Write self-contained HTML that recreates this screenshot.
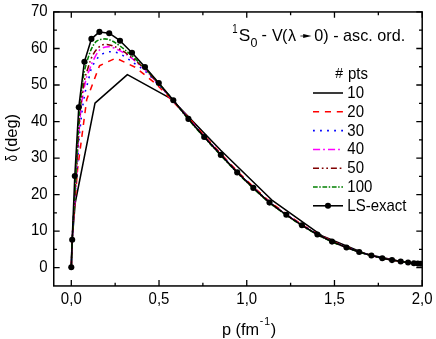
<!DOCTYPE html>
<html><head><meta charset="utf-8"><title>chart</title>
<style>
html,body{margin:0;padding:0;background:#fff;}
body{width:436px;height:339px;overflow:hidden;}
svg{display:block;will-change:transform;}
text{font-family:"Liberation Sans",sans-serif;fill:#000;}
</style></head><body>
<svg width="436" height="339" viewBox="0 0 436 339">
<rect width="436" height="339" fill="#fff"/>
<g clip-path="url(#cp)">
<path d="M71.3,267.2 L72.2,239.7 L75.2,203.0 L95.0,103.1 L127.4,74.6 L170.9,98.6 L220.7,150.3 L272.6,200.7 L322.9,236.3 L366.0,253.9 L398.6,261.1 L417.7,263.6" fill="none" stroke="#000" stroke-width="1.55" stroke-linejoin="round"/>
<path d="M71.3,267.2 L72.5,233.0 L77.6,169.0 L86.7,99.6 L99.5,65.7 L115.8,58.1 L135.2,67.2 L157.1,84.8 L181.2,110.2 L189.7,118.9 L205.4,137.0 L222.1,154.9 L238.4,172.4 L254.6,187.9 L270.8,202.6 L287.6,214.8 L303.1,225.3 L318.6,234.5 L333.2,241.6 L347.5,247.5 L360.0,252.0 L372.0,255.5 L382.7,258.2 L392.2,260.1 L400.8,261.5 L408.1,262.5 L413.9,263.3 L417.8,263.6 L420.5,263.8" fill="none" stroke="#ff0000" stroke-width="1.55" stroke-linejoin="round" stroke-dasharray="6.1 5.8"/>
<path d="M71.30,267.20 C71.45,262.67 71.60,251.53 72.20,240.00 C72.80,228.47 74.10,209.67 74.90,198.00 C75.70,186.33 76.32,179.67 77.00,170.00 C77.68,160.33 78.30,148.55 79.00,140.00 C79.70,131.45 80.60,124.20 81.20,118.70 C81.80,113.20 82.13,110.37 82.60,107.00 C83.07,103.63 83.47,101.43 84.00,98.50 C84.53,95.57 85.13,92.15 85.80,89.40 C86.47,86.65 87.10,85.40 88.00,82.00 C88.90,78.60 89.98,72.43 91.20,69.00 C92.42,65.57 93.82,63.67 95.30,61.40 C96.78,59.13 98.15,56.93 100.10,55.40 C102.05,53.87 104.72,52.78 107.00,52.20 C109.28,51.62 111.52,51.55 113.80,51.90 C116.08,52.25 118.28,53.10 120.70,54.30 C123.12,55.50 125.75,57.38 128.30,59.10 C130.85,60.82 133.13,62.53 136.00,64.60 C138.87,66.67 141.70,68.10 145.50,71.50 C149.30,74.90 154.17,80.15 158.80,85.00 C163.43,89.85 168.28,94.95 173.30,100.60 C178.33,106.25 183.71,112.83 188.95,118.90 C194.19,124.97 199.35,131.00 204.75,137.00 C210.15,143.00 215.85,149.00 221.35,154.90 C226.85,160.80 232.33,166.90 237.75,172.40 C243.17,177.90 248.47,182.87 253.85,187.90 C259.23,192.93 264.55,198.12 270.05,202.60 C275.55,207.08 281.45,211.02 286.85,214.80 C292.25,218.58 297.27,222.02 302.45,225.30 C307.63,228.58 312.94,231.78 317.95,234.50 C322.96,237.22 327.71,239.43 332.54,241.60 C337.37,243.77 342.43,245.77 346.93,247.50 C351.43,249.23 355.42,250.67 359.54,252.00 C363.66,253.33 367.82,254.47 371.65,255.50 C375.47,256.53 379.06,257.44 382.47,258.20 C385.87,258.96 389.05,259.50 392.10,260.05 C395.14,260.60 398.06,261.09 400.73,261.50 C403.40,261.91 405.91,262.20 408.10,262.50 C410.29,262.80 412.28,263.12 413.90,263.30 C415.52,263.48 416.70,263.52 417.80,263.60 C418.90,263.68 420.05,263.77 420.50,263.80" fill="none" stroke="#0000ff" stroke-width="1.55" stroke-linejoin="round" stroke-dasharray="1.8 5.25"/>
<path d="M71.30,267.20 C71.45,262.67 71.60,251.70 72.20,240.00 C72.80,228.30 74.13,208.67 74.90,197.00 C75.67,185.33 76.20,179.50 76.80,170.00 C77.40,160.50 77.77,150.50 78.50,140.00 C79.23,129.50 79.98,116.97 81.20,107.00 C82.42,97.03 84.37,86.53 85.80,80.20 C87.23,73.87 88.57,72.28 89.80,69.00 C91.03,65.72 91.48,63.75 93.20,60.50 C94.92,57.25 97.47,51.80 100.10,49.50 C102.73,47.20 106.13,46.70 109.00,46.70 C111.87,46.70 114.80,48.45 117.30,49.50 C119.80,50.55 121.72,51.63 124.00,53.00 C126.28,54.37 127.45,54.87 131.00,57.70 C134.55,60.53 140.67,65.53 145.30,70.00 C149.93,74.47 154.13,79.42 158.80,84.50 C163.47,89.58 168.32,94.77 173.30,100.50 C178.28,106.23 183.50,112.82 188.70,118.90 C193.90,124.98 199.10,131.00 204.50,137.00 C209.90,143.00 215.60,149.00 221.10,154.90 C226.60,160.80 232.08,166.90 237.50,172.40 C242.92,177.90 248.22,182.87 253.60,187.90 C258.98,192.93 264.30,198.12 269.80,202.60 C275.30,207.08 281.20,211.02 286.60,214.80 C292.00,218.58 297.02,222.02 302.20,225.30 C307.38,228.58 312.68,231.78 317.70,234.50 C322.72,237.22 327.45,239.43 332.29,241.60 C337.13,243.77 342.22,245.77 346.73,247.50 C351.25,249.23 355.25,250.67 359.38,252.00 C363.52,253.33 367.70,254.47 371.53,255.50 C375.37,256.53 378.97,257.44 382.39,258.20 C385.81,258.96 389.00,259.50 392.05,260.05 C395.11,260.60 398.04,261.09 400.72,261.50 C403.39,261.91 405.90,262.20 408.10,262.50 C410.30,262.80 412.28,263.12 413.90,263.30 C415.52,263.48 416.70,263.52 417.80,263.60 C418.90,263.68 420.05,263.77 420.50,263.80" fill="none" stroke="#ff00ff" stroke-width="1.55" stroke-linejoin="round" stroke-dasharray="7.1 3.0 1.8 3.1"/>
<path d="M71.30,267.20 C71.45,262.67 71.60,251.87 72.20,240.00 C72.80,228.13 74.17,207.67 74.90,196.00 C75.63,184.33 76.05,179.33 76.60,170.00 C77.15,160.67 77.55,150.50 78.20,140.00 C78.85,129.50 79.45,117.00 80.50,107.00 C81.55,97.00 83.30,86.33 84.50,80.00 C85.70,73.67 86.72,72.25 87.70,69.00 C88.68,65.75 89.48,62.95 90.40,60.50 C91.32,58.05 92.17,56.13 93.20,54.30 C94.23,52.47 95.22,51.00 96.60,49.50 C97.98,48.00 99.77,46.15 101.50,45.30 C103.23,44.45 105.05,44.28 107.00,44.40 C108.95,44.52 110.80,45.05 113.20,46.00 C115.60,46.95 118.43,48.27 121.40,50.10 C124.37,51.93 127.03,53.80 131.00,57.00 C134.97,60.20 140.57,64.77 145.20,69.30 C149.83,73.83 154.12,79.02 158.80,84.20 C163.48,89.38 168.34,94.62 173.30,100.40 C178.26,106.18 183.38,112.80 188.55,118.90 C193.73,125.00 198.95,131.00 204.35,137.00 C209.75,143.00 215.45,149.00 220.95,154.90 C226.45,160.80 231.93,166.90 237.35,172.40 C242.77,177.90 248.07,182.87 253.45,187.90 C258.83,192.93 264.15,198.12 269.65,202.60 C275.15,207.08 281.05,211.02 286.45,214.80 C291.85,218.58 296.87,222.02 302.05,225.30 C307.23,228.58 312.53,231.78 317.55,234.50 C322.57,237.22 327.30,239.43 332.15,241.60 C336.99,243.77 342.09,245.77 346.62,247.50 C351.14,249.23 355.15,250.67 359.29,252.00 C363.43,253.33 367.62,254.47 371.47,255.50 C375.31,256.53 378.92,257.44 382.35,258.20 C385.77,258.96 388.97,259.50 392.03,260.05 C395.09,260.60 398.03,261.09 400.71,261.50 C403.39,261.91 405.90,262.20 408.10,262.50 C410.30,262.80 412.28,263.12 413.90,263.30 C415.52,263.48 416.70,263.52 417.80,263.60 C418.90,263.68 420.05,263.77 420.50,263.80" fill="none" stroke="#800000" stroke-width="1.55" stroke-linejoin="round" stroke-dasharray="6 2.8 1.7 2.8 1.7 2.9"/>
<path d="M71.30,267.20 C71.45,262.67 71.62,252.03 72.20,240.00 C72.78,227.97 74.12,206.67 74.80,195.00 C75.48,183.33 75.80,179.17 76.30,170.00 C76.80,160.83 77.22,150.50 77.80,140.00 C78.38,129.50 78.93,117.00 79.80,107.00 C80.67,97.00 82.15,86.33 83.00,80.00 C83.85,73.67 84.00,72.83 84.90,69.00 C85.80,65.17 87.25,60.48 88.40,57.00 C89.55,53.52 90.43,50.73 91.80,48.10 C93.17,45.47 94.53,42.73 96.60,41.20 C98.67,39.67 101.67,38.97 104.20,38.90 C106.73,38.83 109.17,39.62 111.80,40.80 C114.43,41.98 116.80,43.63 120.00,46.00 C123.20,48.37 126.82,51.28 131.00,55.00 C135.18,58.72 140.47,63.52 145.10,68.30 C149.73,73.08 154.10,78.37 158.80,83.70 C163.50,89.03 168.43,94.43 173.30,100.30 C178.17,106.17 182.92,112.78 188.00,118.90 C193.08,125.02 198.40,131.00 203.80,137.00 C209.20,143.00 214.90,149.00 220.40,154.90 C225.90,160.80 231.38,166.90 236.80,172.40 C242.22,177.90 247.52,182.87 252.90,187.90 C258.28,192.93 263.60,198.12 269.10,202.60 C274.60,207.08 280.50,211.02 285.90,214.80 C291.30,218.58 296.32,222.02 301.50,225.30 C306.68,228.58 311.98,231.78 317.00,234.50 C322.02,237.22 326.75,239.43 331.61,241.60 C336.48,243.77 341.63,245.77 346.19,247.50 C350.75,249.23 354.78,250.67 358.96,252.00 C363.13,253.33 367.35,254.47 371.22,255.50 C375.09,256.53 378.73,257.44 382.18,258.20 C385.63,258.96 388.85,259.50 391.93,260.05 C395.01,260.60 397.98,261.09 400.68,261.50 C403.37,261.91 405.90,262.20 408.10,262.50 C410.30,262.80 412.28,263.12 413.90,263.30 C415.52,263.48 416.70,263.52 417.80,263.60 C418.90,263.68 420.05,263.77 420.50,263.80" fill="none" stroke="#008000" stroke-width="1.55" stroke-linejoin="round" stroke-dasharray="4.7 1.55 1.5 1.7"/>
<path d="M71.3,267.2 L72.2,239.7 L74.8,176.1 L78.8,107.2 L84.4,61.7 L91.4,38.9 L99.4,31.9 L109.2,33.2 L120.0,40.7 L132.0,52.7 L145.0,67.0 L158.8,83.0 L173.3,100.3 L188.4,118.9 L204.2,137.0 L220.8,154.9 L237.2,172.4 L253.3,187.9 L269.5,202.6 L286.3,214.8 L301.9,225.3 L317.4,234.5 L332.0,241.6 L346.5,247.5 L359.2,252.0 L371.4,255.5 L382.3,258.2 L392.0,260.1 L400.7,261.5 L408.1,262.5 L413.9,263.3 L417.8,263.6 L420.5,263.8" fill="none" stroke="#000" stroke-width="1.55" stroke-linejoin="round"/>
<circle cx="71.3" cy="267.2" r="3.05" fill="#000"/>
<circle cx="72.2" cy="239.7" r="3.05" fill="#000"/>
<circle cx="74.8" cy="176.1" r="3.05" fill="#000"/>
<circle cx="78.8" cy="107.2" r="3.05" fill="#000"/>
<circle cx="84.4" cy="61.7" r="3.05" fill="#000"/>
<circle cx="91.4" cy="38.9" r="3.05" fill="#000"/>
<circle cx="99.4" cy="31.9" r="3.05" fill="#000"/>
<circle cx="109.2" cy="33.2" r="3.05" fill="#000"/>
<circle cx="120.0" cy="40.7" r="3.05" fill="#000"/>
<circle cx="132.0" cy="52.7" r="3.05" fill="#000"/>
<circle cx="145.0" cy="67.0" r="3.05" fill="#000"/>
<circle cx="158.8" cy="83.0" r="3.05" fill="#000"/>
<circle cx="173.3" cy="100.3" r="3.05" fill="#000"/>
<circle cx="188.4" cy="118.9" r="3.05" fill="#000"/>
<circle cx="204.2" cy="137.0" r="3.05" fill="#000"/>
<circle cx="220.8" cy="154.9" r="3.05" fill="#000"/>
<circle cx="237.2" cy="172.4" r="3.05" fill="#000"/>
<circle cx="253.3" cy="187.9" r="3.05" fill="#000"/>
<circle cx="269.5" cy="202.6" r="3.05" fill="#000"/>
<circle cx="286.3" cy="214.8" r="3.05" fill="#000"/>
<circle cx="301.9" cy="225.3" r="3.05" fill="#000"/>
<circle cx="317.4" cy="234.5" r="3.05" fill="#000"/>
<circle cx="332.0" cy="241.6" r="3.05" fill="#000"/>
<circle cx="346.5" cy="247.5" r="3.05" fill="#000"/>
<circle cx="359.2" cy="252.0" r="3.05" fill="#000"/>
<circle cx="371.4" cy="255.5" r="3.05" fill="#000"/>
<circle cx="382.3" cy="258.2" r="3.05" fill="#000"/>
<circle cx="392.0" cy="260.1" r="3.05" fill="#000"/>
<circle cx="400.7" cy="261.5" r="3.05" fill="#000"/>
<circle cx="408.1" cy="262.5" r="3.05" fill="#000"/>
<circle cx="413.9" cy="263.3" r="3.05" fill="#000"/>
<circle cx="417.8" cy="263.6" r="3.05" fill="#000"/>
<circle cx="420.5" cy="263.8" r="3.05" fill="#000"/>
</g>
<rect x="53.75" y="11.95" width="368.45" height="274.00" fill="none" stroke="#000" stroke-width="1.5"/>
<path d="M71.30,285.95 v-5.90 M71.30,11.95 v5.90 M115.16,285.95 v-3.20 M115.16,11.95 v3.20 M159.02,285.95 v-5.90 M159.02,11.95 v5.90 M202.88,285.95 v-3.20 M202.88,11.95 v3.20 M246.75,285.95 v-5.90 M246.75,11.95 v5.90 M290.61,285.95 v-3.20 M290.61,11.95 v3.20 M334.47,285.95 v-5.90 M334.47,11.95 v5.90 M378.34,285.95 v-3.20 M378.34,11.95 v3.20 M422.20,285.95 v-5.90 M422.20,11.95 v5.90 M53.75,267.68 h5.90 M422.20,267.68 h-5.90 M53.75,249.42 h3.20 M422.20,249.42 h-3.20 M53.75,231.15 h5.90 M422.20,231.15 h-5.90 M53.75,212.88 h3.20 M422.20,212.88 h-3.20 M53.75,194.62 h5.90 M422.20,194.62 h-5.90 M53.75,176.35 h3.20 M422.20,176.35 h-3.20 M53.75,158.08 h5.90 M422.20,158.08 h-5.90 M53.75,139.82 h3.20 M422.20,139.82 h-3.20 M53.75,121.55 h5.90 M422.20,121.55 h-5.90 M53.75,103.28 h3.20 M422.20,103.28 h-3.20 M53.75,85.02 h5.90 M422.20,85.02 h-5.90 M53.75,66.75 h3.20 M422.20,66.75 h-3.20 M53.75,48.48 h5.90 M422.20,48.48 h-5.90 M53.75,30.22 h3.20 M422.20,30.22 h-3.20 M53.75,11.95 h5.90 M422.20,11.95 h-5.90" stroke="#000" stroke-width="1.3" fill="none"/>
<text transform="translate(47.70,271.98) scale(0.9375,1)" font-size="16" text-anchor="end">0</text>
<text transform="translate(47.70,235.45) scale(0.9375,1)" font-size="16" text-anchor="end">10</text>
<text transform="translate(47.70,198.92) scale(0.9375,1)" font-size="16" text-anchor="end">20</text>
<text transform="translate(47.70,162.38) scale(0.9375,1)" font-size="16" text-anchor="end">30</text>
<text transform="translate(47.70,125.85) scale(0.9375,1)" font-size="16" text-anchor="end">40</text>
<text transform="translate(47.70,89.32) scale(0.9375,1)" font-size="16" text-anchor="end">50</text>
<text transform="translate(47.70,52.78) scale(0.9375,1)" font-size="16" text-anchor="end">60</text>
<text transform="translate(47.70,16.25) scale(0.9375,1)" font-size="16" text-anchor="end">70</text>
<text transform="translate(71.30,304.00) scale(0.9375,1)" font-size="16" text-anchor="middle">0,0</text>
<text transform="translate(159.02,304.00) scale(0.9375,1)" font-size="16" text-anchor="middle">0,5</text>
<text transform="translate(246.75,304.00) scale(0.9375,1)" font-size="16" text-anchor="middle">1,0</text>
<text transform="translate(334.47,304.00) scale(0.9375,1)" font-size="16" text-anchor="middle">1,5</text>
<text transform="translate(422.20,304.00) scale(0.9375,1)" font-size="16" text-anchor="middle">2,0</text>
<text transform="translate(221.90,334.60) scale(1.0000,1)" font-size="16.3" text-anchor="start">p (fm</text>
<text transform="translate(259.80,324.00) scale(1.0000,1)" font-size="10.5" text-anchor="start">-</text>
<text transform="translate(264.30,325.40) scale(1.0000,1)" font-size="10.5" text-anchor="start">1</text>
<text transform="translate(270.80,334.60) scale(1.0000,1)" font-size="16.3" text-anchor="start">)</text>
<text transform="translate(16.6,161.4) rotate(-90) scale(0.72,1)" font-size="16">δ</text>
<text transform="translate(16.6,152.3) rotate(-90)" font-size="16.4">(deg)</text>
<text transform="translate(232.30,32.70) scale(0.8000,1)" font-size="12" text-anchor="start">1</text>
<text transform="translate(238.70,40.60) scale(1.0700,1)" font-size="16.2" text-anchor="start">S</text>
<text transform="translate(250.50,47.20) scale(0.9500,1)" font-size="13.2" text-anchor="start">0</text>
<text transform="translate(261.50,40.10) scale(1.0000,1)" font-size="16.2" text-anchor="start">-</text>
<text transform="translate(271.90,40.60) scale(1.0000,1)" font-size="16.2" text-anchor="start">V</text>
<text transform="translate(282.00,40.60) scale(1.0000,1)" font-size="16.2" text-anchor="start">(</text>
<text transform="translate(288.00,40.60) scale(1.0000,1)" font-size="16.2" text-anchor="start">λ</text>
<path d="M300.4,36.0 H304.5" stroke="#000" stroke-width="0.8"/><path d="M303.2,34.1 L311.5,36.0 L303.2,37.9 Z" fill="#000"/>
<text transform="translate(314.30,40.60) scale(1.0000,1)" font-size="16.2" text-anchor="start">0) - asc. ord.</text>
<text transform="translate(335.20,78.40) scale(1.0000,1)" font-size="14" text-anchor="start">#</text>
<text transform="translate(348.00,78.60) scale(0.9375,1)" font-size="16" text-anchor="start">pts</text>
<path d="M313.0,93.0 H343.0" fill="none" stroke="#000" stroke-width="1.55" stroke-linejoin="round"/>
<text transform="translate(347.30,97.90) scale(0.9375,1)" font-size="16" text-anchor="start">10</text>
<path d="M313.0,111.8 H343.0" fill="none" stroke="#ff0000" stroke-width="1.55" stroke-linejoin="round" stroke-dasharray="6.1 5.8"/>
<text transform="translate(347.30,116.70) scale(0.9375,1)" font-size="16" text-anchor="start">20</text>
<path d="M313.0,130.6 H343.0" fill="none" stroke="#0000ff" stroke-width="1.55" stroke-linejoin="round" stroke-dasharray="1.8 5.25"/>
<text transform="translate(347.30,135.50) scale(0.9375,1)" font-size="16" text-anchor="start">30</text>
<path d="M313.0,149.4 H343.0" fill="none" stroke="#ff00ff" stroke-width="1.55" stroke-linejoin="round" stroke-dasharray="7.1 3.0 1.8 3.1"/>
<text transform="translate(347.30,154.30) scale(0.9375,1)" font-size="16" text-anchor="start">40</text>
<path d="M313.0,168.2 H343.0" fill="none" stroke="#800000" stroke-width="1.55" stroke-linejoin="round" stroke-dasharray="6 2.8 1.7 2.8 1.7 2.9"/>
<text transform="translate(347.30,173.10) scale(0.9375,1)" font-size="16" text-anchor="start">50</text>
<path d="M313.0,187.0 H343.0" fill="none" stroke="#008000" stroke-width="1.55" stroke-linejoin="round" stroke-dasharray="4.7 1.55 1.5 1.7"/>
<text transform="translate(347.30,191.90) scale(0.9375,1)" font-size="16" text-anchor="start">100</text>
<path d="M313.0,205.8 H343.0" fill="none" stroke="#000" stroke-width="1.55" stroke-linejoin="round"/>
<circle cx="328" cy="205.8" r="3.05" fill="#000"/>
<text transform="translate(347.30,210.70) scale(0.9375,1)" font-size="16" text-anchor="start">LS-exact</text>
<defs><clipPath id="cp"><rect x="53.75" y="11.95" width="368.45" height="274.00"/></clipPath></defs>
</svg>
</body></html>
